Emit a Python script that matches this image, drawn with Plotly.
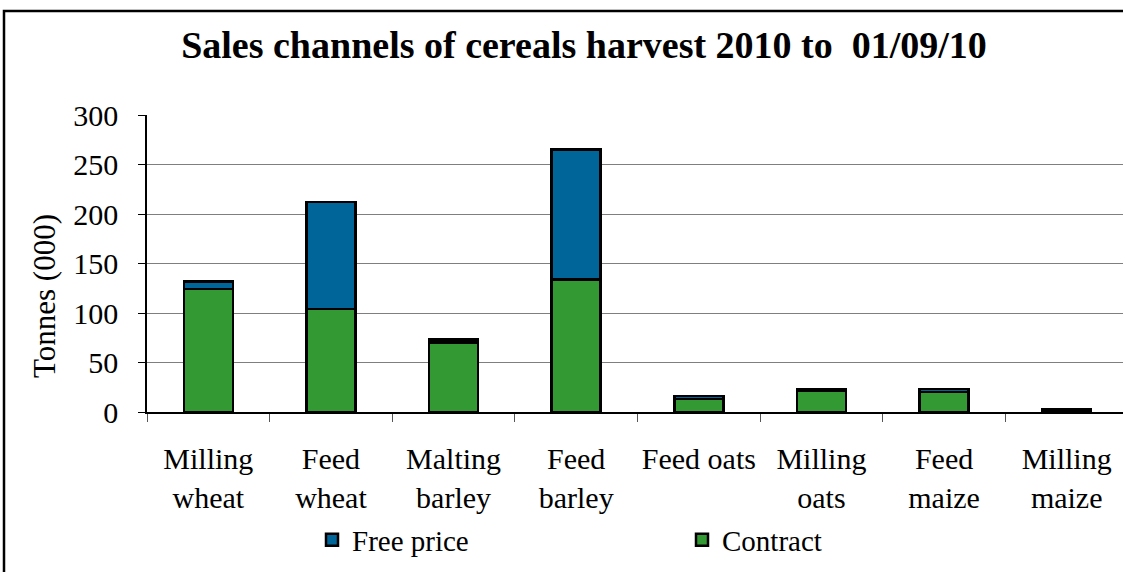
import plotly.graph_objects as go

categories = ["Milling<br>wheat", "Feed<br>wheat", "Malting<br>barley", "Feed<br>barley",
              "Feed oats", "Milling<br>oats", "Feed<br>maize", "Milling<br>maize"]
contract = [124, 104, 70, 134, 13, 21, 20, 2]
free_price = [8, 108, 3, 131, 3, 2, 3, 1]
y_ticks = [0, 50, 100, 150, 200, 250, 300]

W, H = 1123, 572
L, R, T, B = 147, 0, 115, 160
pw = W - L - R
ph = H - T - B

def px_x(p):
    return (p - L) / pw

def px_y(p):
    return (H - B - p) / ph

FONT = "Liberation Serif, Times New Roman, serif"

fig = go.Figure()
fig.add_trace(go.Bar(x=categories, y=contract, name="Contract",
                     marker=dict(color="#339933", line=dict(color="black", width=2.5)),
                     width=0.4))
fig.add_trace(go.Bar(x=categories, y=free_price, name="Free price",
                     marker=dict(color="#006699", line=dict(color="black", width=2.5)),
                     width=0.4))

fig.update_layout(
    barmode="stack",
    width=W, height=H,
    margin=dict(l=L, r=R, t=T, b=B, autoexpand=False),
    paper_bgcolor="white", plot_bgcolor="white",
    font=dict(family=FONT, size=30, color="black"),
    title=dict(text="<b>Sales channels of cereals harvest 2010 to \u00a001/09/10</b>",
               font=dict(family=FONT, size=38, color="black"),
               x=584 / W, xanchor="center", y=1 - 45 / H, yanchor="middle"),
    showlegend=True,
    legend=dict(orientation="h", traceorder="reversed",
                x=px_x(312), xanchor="left", y=px_y(540), yanchor="middle",
                font=dict(family=FONT, size=29, color="black"),
                entrywidth=325, entrywidthmode="pixels",
                bgcolor="rgba(0,0,0,0)"),
    bargap=0.6,
    shapes=[dict(type="rect", xref="paper", yref="paper",
                 x0=px_x(4), x1=px_x(1135), y0=px_y(11), y1=px_y(590),
                 line=dict(color="black", width=2.5), fillcolor="rgba(0,0,0,0)",
                 layer="above")],
    annotations=[dict(text="Tonnes (000)", xref="paper", yref="paper",
                      x=px_x(44), y=px_y(296), xanchor="center", yanchor="middle",
                      textangle=-90, showarrow=False,
                      font=dict(family=FONT, size=31, color="black"))],
)

fig.update_xaxes(
    range=[-0.5, 7.5 - 5 / 122.6],
    showline=True, linecolor="black", linewidth=1.5,
    ticks="outside", tickson="boundaries", ticklen=8, tickcolor="#555555",
    tickangle=0, automargin=False,
    tickfont=dict(family=FONT, size=30, color="black"),
    ticklabelstandoff=19,
    showgrid=False,
)
fig.update_yaxes(
    range=[0, 300], tickvals=y_ticks,
    showline=True, linecolor="black", linewidth=1.5,
    ticks="outside", ticklen=7, tickcolor="black",
    showgrid=True, gridcolor="#7f7f7f", gridwidth=1,
    automargin=False,
    tickfont=dict(family=FONT, size=30, color="black"),
    ticklabelstandoff=14,
    zeroline=False,
)

fig.write_html("out.html", config={"displayModeBar": False},
               post_script="document.body.style.margin='0px';")
